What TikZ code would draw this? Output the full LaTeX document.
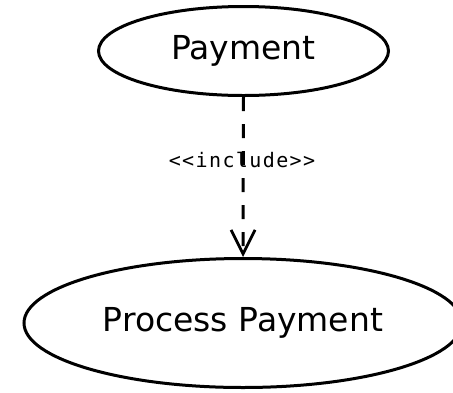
\documentclass[tikz,border=0pt]{standalone}
\usepackage{fontspec}
\setmainfont{DejaVu Sans}
\newfontfamily\lblfont[LetterSpace=7]{DejaVu Sans Mono}
\usetikzlibrary{shapes.geometric,arrows.meta}
\begin{document}
\begin{tikzpicture}[x=1pt,y=-1pt,
  usecase/.style={draw=black,line width=3pt,ellipse,inner sep=0pt,
    font=\fontsize{33}{40}\selectfont},
  dep/.style={draw=black,line width=3pt,dash pattern=on 14pt off 13pt,
    -{Straight Barb[length=24pt,width=24pt,line width=2.8pt]}},
  lbl/.style={font=\lblfont\fontsize{20}{24}\selectfont,inner sep=0pt,anchor=base}]
\useasboundingbox (0,0) rectangle (453,392);
\node[usecase,minimum width=290pt,minimum height=89pt] (pay) at (243.5,51) {Payment};
\node[usecase,minimum width=438pt,minimum height=129pt] (proc) at (243,323) {Process Payment};
\draw[dep] (pay.south) -- (proc.north);
\node[lbl] (inc) at (242,167) {<<include>>};
\end{tikzpicture}
\end{document}
